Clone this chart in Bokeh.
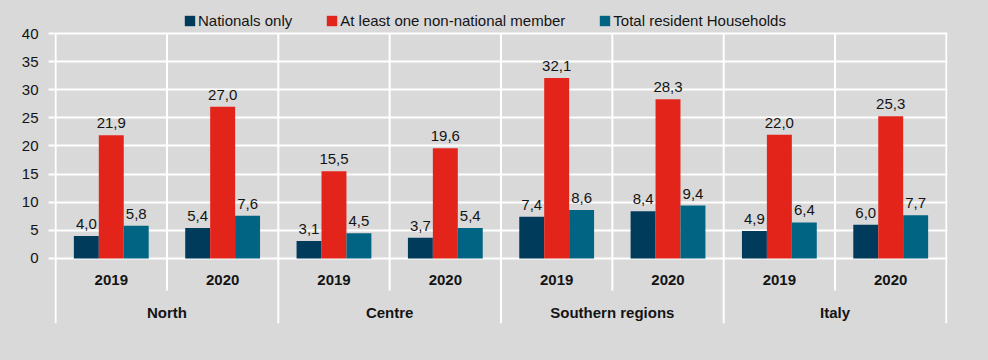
from bokeh.plotting import figure
from bokeh.models import FactorRange, Range1d, FixedTicker, ColumnDataSource, Legend, LegendItem
from bokeh.transform import dodge
from bokeh.core.properties import value
from bokeh.embed import file_html
from bokeh.resources import INLINE

# ---- data ----
regions = ["North", "Centre", "Southern regions", "Italy"]
years = ["2019", "2020"]
series_names = ["Nationals only", "At least one non-national member", "Total resident Households"]
nationals_only = [4.0, 5.4, 3.1, 3.7, 7.4, 8.4, 4.9, 6.0]
non_national = [21.9, 27.0, 15.5, 19.6, 32.1, 28.3, 22.0, 25.3]
total_households = [5.8, 7.6, 4.5, 5.4, 8.6, 9.4, 6.4, 7.7]
y_ticks = [0, 5, 10, 15, 20, 25, 30, 35, 40]

# ---- style ----
BG = "#d9d9d9"
TXT = "#141414"
FONT_NAME = "Liberation Sans"
FONT = value(FONT_NAME)
FS = "15px"
colors = ["#003B5C", "#E2241B", "#006482"]
BAR_W = 0.224
Y_MIN, Y_TOP, Y_MAX = -11.56, 40, 45.87
YEAR_LABEL_Y = -3.9
REGION_LABEL_Y = -9.65
YEAR_SEP_BOTTOM = -5.69

factors = [(r, y) for r in regions for y in years]

def fmt(v):
    return f"{v:.1f}".replace(".", ",")

src = ColumnDataSource(dict(
    x=factors,
    s0=nationals_only, s1=non_national, s2=total_households,
    l0=[fmt(v) for v in nationals_only],
    l1=[fmt(v) for v in non_national],
    l2=[fmt(v) for v in total_households],
))

p = figure(
    x_range=FactorRange(*factors, range_padding=0.01, range_padding_units="absolute",
                        group_padding=0, factor_padding=0),
    y_range=Range1d(Y_MIN, Y_MAX),
    width=972, height=344,
    output_backend="svg", toolbar_location=None, x_axis_location=None,
    min_border_left=54, min_border_right=25, min_border_top=0, min_border_bottom=21,
    background_fill_color=BG, border_fill_color=BG, outline_line_color=None,
)

# grid
p.xgrid.visible = False
p.ygrid.ticker = FixedTicker(ticks=y_ticks)
p.ygrid.grid_line_color = "white"
p.ygrid.grid_line_width = 2

# separators derived from category structure
n = len(factors)
sep_x, sep_y0, sep_y1 = [], [], []
for i in range(n + 1):
    sep_x.append(i)
    sep_y0.append(Y_TOP)
    sep_y1.append(Y_MIN if i % len(years) == 0 else YEAR_SEP_BOTTOM)
p.segment(x0=sep_x, y0=sep_y0, x1=sep_x, y1=sep_y1, line_color="white", line_width=2)

# y axis
yax = p.yaxis[0]
yax.ticker = FixedTicker(ticks=y_ticks)
yax.axis_line_color = None
yax.major_tick_line_color = "white"
yax.major_tick_line_width = 2
yax.major_tick_out = 6
yax.major_tick_in = 0
yax.minor_tick_line_color = None
yax.major_label_standoff = 10
yax.major_label_text_font = FONT_NAME
yax.major_label_text_font_size = FS
yax.major_label_text_color = TXT

# bars + labels
offsets = [-BAR_W, 0.0, BAR_W]
renderers = []
for k in range(3):
    r = p.vbar(x=dodge("x", offsets[k], range=p.x_range), top=f"s{k}", bottom=0, width=BAR_W,
               source=src, fill_color=colors[k], line_color=None)
    renderers.append(r)
    p.text(x=dodge("x", offsets[k], range=p.x_range), y=f"s{k}", text=f"l{k}", source=src,
           text_align="center", text_baseline="alphabetic", y_offset=-12,
           text_font=FONT, text_font_size=FS, text_color=TXT)

# category labels
p.text(x=factors, y=[YEAR_LABEL_Y] * n, text=[f[1] for f in factors],
       text_align="center", text_baseline="middle", text_font=FONT,
       text_font_size=FS, text_font_style="bold", text_color=TXT)
p.text(x=regions, y=[REGION_LABEL_Y] * len(regions), text=regions,
       text_align="center", text_baseline="middle", text_font=FONT,
       text_font_size=FS, text_font_style="bold", text_color=TXT)

legend = Legend(
    items=[LegendItem(label=series_names[k], renderers=[renderers[k]]) for k in range(3)],
    orientation="horizontal", location=(129, 294),
    background_fill_alpha=0, border_line_color=None,
    label_text_font=FONT_NAME, label_text_font_size=FS, label_text_color=TXT,
    glyph_width=13, glyph_height=13, label_standoff=2, spacing=33, padding=0, margin=0,
)
p.add_layout(legend)

html = file_html(p, INLINE).replace("<body>", '<body style="background-color:#d9d9d9;">')
open("out.html", "w").write(html)
